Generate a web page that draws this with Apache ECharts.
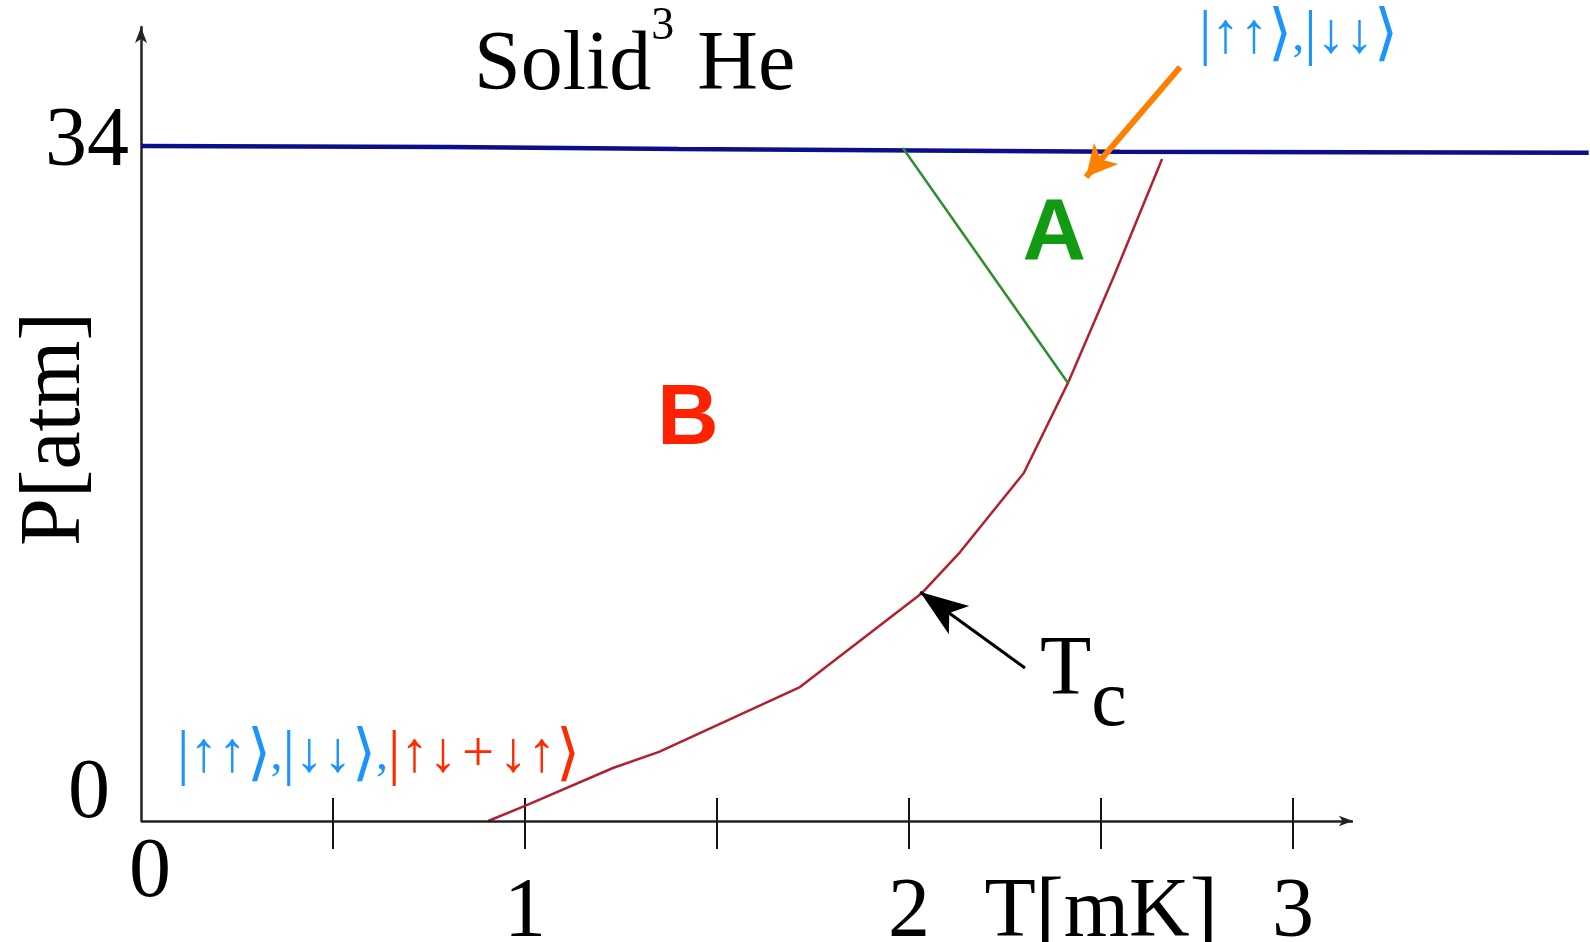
<!DOCTYPE html>
<html><head><meta charset="utf-8">
<script src="https://cdn.jsdelivr.net/npm/echarts@6/dist/echarts.min.js"></script>
<style>html,body{margin:0;padding:0;background:#fff}#c{width:1590px;height:942px}</style>
</head><body><div id="c"></div>
<script>
// ---- axes ----
const xMin = 0, xMax = 3.77, xInterval = 0.5;
const yMin = 0, yMax = 40, yInterval = 34;
const xTickValues = [0.5, 1, 1.5, 2, 2.5, 3];
const xLabelValues = [0, 1, 2, 2.5, 3];
const xLabelTexts = ['0', '1', '2', 'T[mK]', '3'];
const yLabelValues = [0, 34];
const yLabelTexts = ['0', '34'];
const yAxisName = 'P[atm]';
const xAxisArrowEnd = 3.156;

// ---- data ----
const meltingT = [0, 0.8, 1.4, 2.55, 3.77];
const meltingP = [34.0, 33.95, 33.85, 33.72, 33.66];
const tcT = [0.904, 1.0, 1.229, 1.349, 1.716, 2.034, 2.133, 2.299, 2.414, 2.536, 2.659];
const tcP = [0, 0.76, 2.67, 3.48, 6.75, 11.49, 13.55, 17.53, 22.07, 27.56, 33.35];
const abT = [1.984, 2.414];
const abP = [33.9, 22.07];

// ---- annotation texts ----
const aPhaseKets = ['↑↑', '↓↓'];
const bPhaseExtraKet = '↑↓\u200a+\u200a↓↑';

// ---- annotations (data coordinates) ----
const tcArrowT = [2.302, 2.029], tcArrowP = [7.71, 11.54];
const ketArrowT = [2.706, 2.461], ketArrowP = [37.98, 32.44];

const zip = (a, b) => a.map((v, i) => [v, b[i]]);
const serif = 'Liberation Serif';
const sans = 'Liberation Sans';
const blue = '#1a95ff', red = '#ff2a00';

// ket |...⟩ as rich text tokens: prefix p selects colour set
const ket = (p, inner) => `{${p}v||}{${p}a|${inner}}{${p}k|⟩}`;
const ketRich = (p, color) => ({
  [p + 'v']: { fontFamily: serif, fontSize: 62, color },
  [p + 'a']: { fontFamily: serif, fontSize: 57, color },
  [p + 'k']: { fontFamily: serif, fontSize: 62, color },
  [p + 'c']: { fontFamily: serif, fontSize: 48, color }
});
const comma = p => `{${p}c|,}`;

const annotations = [
  { value: [0.867, 38.0], align: 'left', text: '{a|Solid}{s|3}{a| He}',
    rich: { a: { fontFamily: serif, fontSize: 84, color: '#000' },
            s: { fontFamily: serif, fontSize: 46, color: '#000', padding: [0, 2, 80, 0] } } },
  { value: [2.378, 29.55], align: 'center', text: '{g|A}',
    rich: { g: { fontFamily: sans, fontWeight: 'bold', fontSize: 88, color: '#139a13' } } },
  { value: [1.424, 20.18], align: 'center', text: '{r|B}',
    rich: { r: { fontFamily: sans, fontWeight: 'bold', fontSize: 85, color: '#ff2200' } } },
  { value: [2.341, 7.53], align: 'left', text: '{t|T}{c|c}',
    rich: { t: { fontFamily: serif, fontSize: 84, color: '#000' },
            c: { fontFamily: serif, fontSize: 80, color: '#000', padding: [64, 0, 0, 0] } } },
  { value: [2.755, 39.5], align: 'left',
    text: ket('b', aPhaseKets[0]) + comma('b') + ket('b', aPhaseKets[1]),
    rich: ketRich('b', blue) },
  { value: [0.094, 3.25], align: 'left',
    text: ket('b', aPhaseKets[0]) + comma('b') + ket('b', aPhaseKets[1]) + comma('b') + ket('r', bPhaseExtraKet),
    rich: Object.assign({}, ketRich('b', blue), ketRich('r', red)) }
];

const chart = echarts.init(document.getElementById('c'), null, { renderer: 'canvas' });

function arrowSeries(name, t, p, color, width, headSize) {
  return {
    name, type: 'line', data: [], silent: true,
    markLine: {
      silent: true, animation: false, symbol: ['none', 'arrow'],
      label: { show: false },
      lineStyle: { color, width, type: 'solid', opacity: 1 },
      emphasis: { disabled: true },
      data: [[{ coord: [t[0], p[0]], symbol: 'none' }, { coord: [t[1], p[1]], symbol: 'arrow', symbolSize: headSize }]]
    }
  };
}

chart.setOption({
  animation: false,
  backgroundColor: '#fff',
  grid: { left: 141, top: 27, width: 1447.7, height: 794, containLabel: false, outerBoundsMode: 'none' },
  xAxis: [{
    type: 'value', min: xMin, max: xMax, interval: xInterval, position: 'bottom',
    axisLine: { show: false },
    splitLine: { show: false },
    axisTick: { show: true, customValues: xTickValues, length: 28, inside: false, lineStyle: { color: '#111', width: 2 } },
    axisLabel: {
      show: true, customValues: xLabelValues, margin: 11, interval: 0, hideOverlap: false,
      fontFamily: serif, fontSize: 84, color: '#000',
      formatter: v => {
        const i = xLabelValues.indexOf(v);
        if (i < 0) return '';
        return (v === 0 ? '{z|' : '{n|') + xLabelTexts[i] + '}';
      },
      rich: {
        z: { fontFamily: serif, fontSize: 84, color: '#000', padding: [0, 0, 0, 18] },
        n: { fontFamily: serif, fontSize: 84, color: '#000', padding: [40, 0, 0, 0] }
      }
    }
  }, {
    type: 'value', min: xMin, max: xMax, interval: xInterval, position: 'bottom',
    axisLine: { show: false }, splitLine: { show: false }, axisLabel: { show: false },
    axisTick: { show: true, customValues: xTickValues, length: 23, inside: true, lineStyle: { color: '#111', width: 2 } }
  }],
  yAxis: {
    type: 'value', min: yMin, max: yMax, interval: yInterval,
    name: yAxisName, nameLocation: 'middle', nameRotate: 90, nameGap: 42, nameMoveOverlap: false,
    nameTextStyle: { fontFamily: serif, fontSize: 86, color: '#000', padding: [0, 10, 0, 0] },
    axisLine: { show: true, symbol: ['none', 'arrow'], symbolSize: [9, 16], lineStyle: { color: '#222', width: 2.5 } },
    axisTick: { show: false },
    splitLine: { show: false },
    axisLabel: {
      show: true, customValues: yLabelValues, margin: 12, fontFamily: serif, fontSize: 84, color: '#000',
      formatter: v => {
        const i = yLabelValues.indexOf(v);
        if (i < 0) return '';
        return (v === 0 ? '{z|' : '{n|') + yLabelTexts[i] + '}';
      },
      rich: {
        z: { fontFamily: serif, fontSize: 84, color: '#000', padding: [0, 19, 53, 0] },
        n: { fontFamily: serif, fontSize: 84, color: '#000', padding: [0, 0, 7, 0] }
      }
    }
  },
  series: [
    { name: 'Melting curve', type: 'line', data: zip(meltingT, meltingP), symbol: 'none', silent: true,
      lineStyle: { color: '#0b0f8a', width: 4.5 }, z: 3 },
    { name: 'Tc', type: 'line', data: zip(tcT, tcP), symbol: 'none', silent: true,
      lineStyle: { color: '#b3202e', width: 2.5 }, z: 4 },
    { name: 'A-B', type: 'line', data: zip(abT, abP), symbol: 'none', silent: true,
      lineStyle: { color: '#2d8e2d', width: 2.5 }, z: 4 },
    arrowSeries('x-axis', [0, xAxisArrowEnd], [0, 0], '#222', 2.5, [8, 14]),
    arrowSeries('Tc arrow', tcArrowT, tcArrowP, '#000', 3, [26, 48]),
    arrowSeries('ket arrow', ketArrowT, ketArrowP, '#ff8000', 6, [24, 31]),
    { name: 'labels', type: 'scatter', silent: true, symbolSize: 1, z: 10,
      itemStyle: { color: 'rgba(0,0,0,0)', opacity: 1 },
      data: annotations.map(a => ({
        value: a.value,
        label: { show: true, position: 'inside', align: a.align, verticalAlign: 'middle', opacity: 1,
                 formatter: a.text, rich: a.rich }
      }))
    }
  ]
});
</script></body></html>
